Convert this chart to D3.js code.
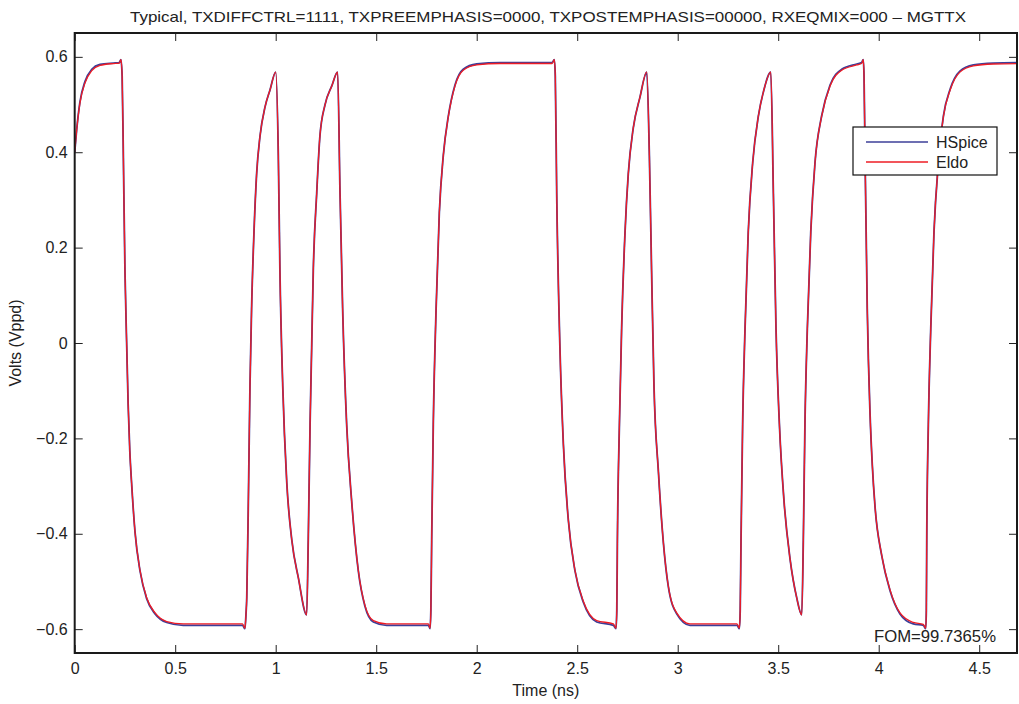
<!DOCTYPE html>
<html>
<head>
<meta charset="utf-8">
<script src="https://d3js.org/d3.v7.min.js"></script>
<style>
  body { margin: 0; background: #fff; }
  svg text { font-family: "Liberation Sans", Arial, Helvetica, sans-serif; fill: #222; }
</style>
</head>
<body>
<div id="chart"></div>
<script>

// time axis (ns), shared by both simulators
var timeNs = [
  0, 0.010, 0.026, 0.051, 0.085, 0.126, 0.192, 0.222, 0.230, 0.236,
  0.242, 0.250, 0.259, 0.266, 0.274, 0.284, 0.300, 0.325, 0.358, 0.400, 0.458,
  0.540, 0.700, 0.835, 0.847, 0.852, 0.856, 0.864, 0.872, 0.880, 0.892,
  0.905, 0.922, 0.947, 0.972, 1.000, 1.013, 1.021, 1.035, 1.055, 1.080,
  1.113, 1.154, 1.162, 1.171, 1.179, 1.187, 1.204, 1.220, 1.245, 1.279,
  1.308, 1.320, 1.333, 1.353, 1.378, 1.411, 1.444, 1.486, 1.552, 1.760,
  1.768, 1.772, 1.776, 1.784, 1.798, 1.814, 1.834, 1.859, 1.892, 1.933,
  2.000, 2.116, 2.375, 2.386, 2.391, 2.398, 2.414, 2.431, 2.456, 2.489,
  2.531, 2.597, 2.680, 2.693, 2.697, 2.700, 2.710, 2.721, 2.738, 2.754,
  2.779, 2.812, 2.846, 2.859, 2.870, 2.882, 2.904, 2.929, 2.953, 2.995,
  3.061, 3.295, 3.307, 3.311, 3.315, 3.323, 3.335, 3.351, 3.373, 3.401,
  3.429, 3.463, 3.476, 3.489, 3.506, 3.529, 3.559, 3.592, 3.617, 3.625,
  3.633, 3.645, 3.662, 3.683, 3.716, 3.758, 3.816, 3.891, 3.915, 3.923,
  3.927, 3.932, 3.943, 3.957, 3.968, 3.982, 4.015, 4.056, 4.106, 4.172, 4.222,
  4.234, 4.237, 4.239, 4.247, 4.259, 4.275, 4.297, 4.322, 4.356, 4.404,
  4.471, 4.570, 4.690
];

var eldoV = [
  0.400, 0.447, 0.503, 0.545, 0.571, 0.582, 0.586, 0.587, 0.594, 0.560,
  0.394, 0.152, -0.009, -0.130, -0.225, -0.300, -0.396, -0.477, -0.534, -0.566, -0.584,
  -0.589, -0.589, -0.589, -0.598, -0.570, -0.534, -0.332, -0.090, 0.072, 0.233,
  0.354, 0.434, 0.495, 0.531, 0.568, 0.394, 0.152, -0.090, -0.292, -0.413,
  -0.493, -0.570, -0.413, -0.171, -0.009, 0.152, 0.314, 0.434, 0.499, 0.539,
  0.568, 0.314, 0.072, -0.171, -0.332, -0.477, -0.550, -0.582, -0.589, -0.589,
  -0.598, -0.560, -0.413, -0.171, 0.072, 0.273, 0.394, 0.475, 0.539, 0.572,
  0.583, 0.586, 0.586, 0.594, 0.560, 0.314, -0.009, -0.211, -0.372, -0.477,
  -0.542, -0.582, -0.589, -0.598, -0.560, -0.413, -0.171, 0.031, 0.233, 0.354,
  0.451, 0.515, 0.568, 0.394, 0.152, -0.090, -0.270, -0.420, -0.509, -0.566,
  -0.589, -0.589, -0.598, -0.560, -0.413, -0.171, 0.031, 0.233, 0.378, 0.475,
  0.531, 0.568, 0.314, 0.031, -0.171, -0.332, -0.453, -0.534, -0.570, -0.413,
  -0.171, 0.031, 0.233, 0.378, 0.475, 0.539, 0.572, 0.583, 0.586, 0.594,
  0.560, 0.394, 0.072, -0.150, -0.255, -0.345, -0.445, -0.517, -0.566, -0.586, -0.590,
  -0.598, -0.560, -0.413, -0.171, 0.031, 0.233, 0.378, 0.475, 0.531, 0.568,
  0.581, 0.585, 0.586
];

var hspiceV = [
  0.400, 0.448, 0.505, 0.548, 0.574, 0.584, 0.587, 0.588, 0.594, 0.560,
  0.394, 0.152, -0.009, -0.130, -0.225, -0.300, -0.396, -0.478, -0.536, -0.568, -0.586,
  -0.592, -0.592, -0.592, -0.599, -0.570, -0.534, -0.332, -0.090, 0.072, 0.233,
  0.354, 0.434, 0.495, 0.531, 0.568, 0.394, 0.152, -0.090, -0.292, -0.413,
  -0.493, -0.570, -0.413, -0.171, -0.009, 0.152, 0.314, 0.434, 0.499, 0.539,
  0.568, 0.314, 0.072, -0.171, -0.332, -0.478, -0.552, -0.585, -0.592, -0.592,
  -0.599, -0.560, -0.413, -0.171, 0.072, 0.273, 0.394, 0.476, 0.541, 0.574,
  0.585, 0.588, 0.588, 0.594, 0.560, 0.314, -0.009, -0.211, -0.372, -0.478,
  -0.544, -0.585, -0.592, -0.599, -0.560, -0.413, -0.171, 0.031, 0.233, 0.354,
  0.451, 0.515, 0.568, 0.394, 0.152, -0.090, -0.270, -0.420, -0.510, -0.568,
  -0.592, -0.592, -0.599, -0.560, -0.413, -0.171, 0.031, 0.233, 0.378, 0.475,
  0.531, 0.568, 0.314, 0.031, -0.171, -0.332, -0.453, -0.534, -0.570, -0.413,
  -0.171, 0.031, 0.233, 0.378, 0.476, 0.541, 0.574, 0.585, 0.588, 0.594,
  0.560, 0.394, 0.072, -0.150, -0.255, -0.345, -0.446, -0.519, -0.568, -0.589, -0.592,
  -0.599, -0.560, -0.413, -0.171, 0.031, 0.233, 0.378, 0.476, 0.533, 0.570,
  0.583, 0.587, 0.588
];

var xTicks = [0, 0.5, 1, 1.5, 2, 2.5, 3, 3.5, 4, 4.5];
var yTicks = [-0.6, -0.4, -0.2, 0, 0.2, 0.4, 0.6];

var series = [
  { name: 'HSpice', color: '#3c3f99', width: 1.8, values: hspiceV },
  { name: 'Eldo',   color: '#ee1c24', width: 1.3, values: eldoV }
];

var titleText = 'Typical, TXDIFFCTRL=1111, TXPREEMPHASIS=0000, TXPOSTEMPHASIS=00000, RXEQMIX=000 \u2013 MGTTX';
var fomText = 'FOM=99.7365%';

var W = 1019, H = 704;
var margin = { top: 33, right: 2, bottom: 51, left: 74.7 };
var innerW = W - margin.left - margin.right;
var innerH = H - margin.top - margin.bottom;

var svg = d3.select('#chart').append('svg')
  .attr('width', W)
  .attr('height', H);

var g = svg.append('g')
  .attr('transform', 'translate(' + margin.left + ',' + margin.top + ')');

var x = d3.scaleLinear().domain([0, 4.688]).range([0, innerW]);
var y = d3.scaleLinear().domain([-0.65, 0.65]).range([innerH, 0]);

// matlab style minus sign
function fmt(d) {
  var s = d3.format('')(d);
  return s.replace('-', '\u2013');
}

// axes, ticks pointing inward
var tickLen = 8;

g.append('g')
  .attr('class', 'axis')
  .attr('transform', 'translate(0,' + innerH + ')')
  .call(d3.axisBottom(x).tickValues(xTicks).tickFormat(fmt)
    .tickSizeInner(-tickLen).tickSizeOuter(0).tickPadding(10));

g.append('g')
  .attr('class', 'axis')
  .call(d3.axisTop(x).tickValues(xTicks).tickFormat('')
    .tickSizeInner(-tickLen).tickSizeOuter(0));

g.append('g')
  .attr('class', 'axis')
  .call(d3.axisLeft(y).tickValues(yTicks).tickFormat(fmt)
    .tickSizeInner(-tickLen).tickSizeOuter(0).tickPadding(7));

g.append('g')
  .attr('class', 'axis')
  .attr('transform', 'translate(' + innerW + ',0)')
  .call(d3.axisRight(y).tickValues(yTicks).tickFormat('')
    .tickSizeInner(-tickLen).tickSizeOuter(0));

g.selectAll('.axis .domain').remove();
g.selectAll('.axis line').attr('stroke', '#222').attr('stroke-width', 1);
g.selectAll('.axis text')
  .style('font-size', '16px')
  .style('font-family', '"Liberation Sans", Arial, sans-serif')
  .attr('fill', '#222');

// waveforms
g.append('clipPath').attr('id', 'clip')
  .append('rect').attr('width', innerW).attr('height', innerH);

var line = d3.line()
  .x(function(d) { return x(d[0]); })
  .y(function(d) { return y(d[1]); })
  .curve(d3.curveMonotoneX);

series.forEach(function(s) {
  var pts = timeNs.map(function(t, i) { return [t, s.values[i]]; });
  g.append('path')
    .datum(pts)
    .attr('clip-path', 'url(#clip)')
    .attr('fill', 'none')
    .attr('stroke', s.color)
    .attr('stroke-width', s.width)
    .attr('stroke-linejoin', 'round')
    .attr('d', line);
});

// axes box
g.append('rect')
  .attr('width', innerW)
  .attr('height', innerH)
  .attr('fill', 'none')
  .attr('stroke', '#1a1a1a')
  .attr('stroke-width', 2);

// legend
var legend = g.append('g')
  .attr('transform', 'translate(' + (853 - margin.left) + ',' + (127 - margin.top) + ')');

legend.append('rect')
  .attr('width', 144)
  .attr('height', 48)
  .attr('fill', '#fff')
  .attr('stroke', '#111')
  .attr('stroke-width', 1.2);

series.forEach(function(s, i) {
  var ly = 15 + i * 20;
  legend.append('line')
    .attr('x1', 13).attr('x2', 75)
    .attr('y1', ly).attr('y2', ly)
    .attr('stroke', s.color)
    .attr('stroke-width', 1.3);
  legend.append('text')
    .attr('x', 83)
    .attr('y', ly + 5.5)
    .style('font-size', '16px')
    .text(s.name);
});

// FOM annotation
g.append('text')
  .attr('x', 874 - margin.left)
  .attr('y', 642 - margin.top)
  .attr('textLength', 122)
  .attr('lengthAdjust', 'spacingAndGlyphs')
  .style('font-size', '16px')
  .text(fomText);

// title and labels
svg.append('text')
  .attr('x', 548)
  .attr('y', 22)
  .attr('text-anchor', 'middle')
  .attr('textLength', 836)
  .attr('lengthAdjust', 'spacingAndGlyphs')
  .style('font-size', '15px')
  .text(titleText);

svg.append('text')
  .attr('x', margin.left + innerW / 2)
  .attr('y', 696)
  .attr('text-anchor', 'middle')
  .style('font-size', '16px')
  .text('Time (ns)');

svg.append('text')
  .attr('transform', 'translate(21,' + (margin.top + innerH / 2) + ') rotate(-90)')
  .attr('text-anchor', 'middle')
  .style('font-size', '16px')
  .text('Volts (Vppd)');

</script>
</body>
</html>
